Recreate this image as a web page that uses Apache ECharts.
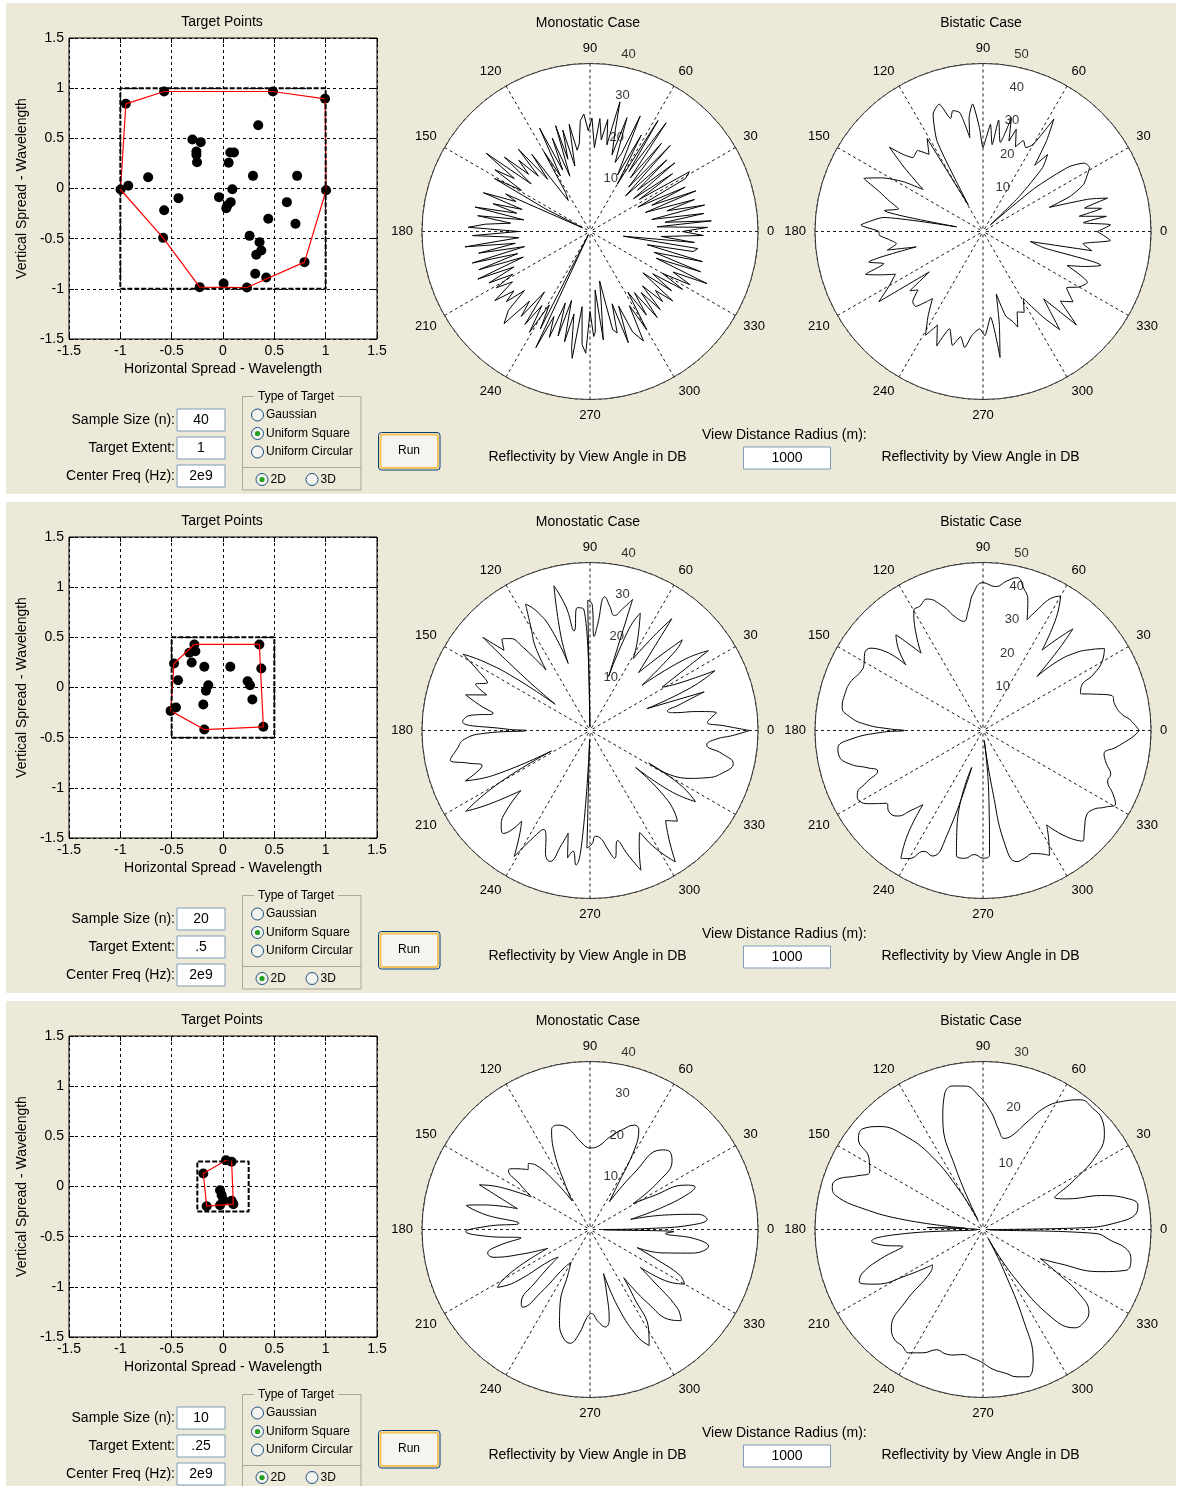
<!DOCTYPE html>
<html>
<head>
<meta charset="utf-8">
<title>Target Reflectivity</title>
<script src="https://cdn.jsdelivr.net/npm/echarts@6/dist/echarts.min.js"></script>
<style>
  html, body { margin: 0; padding: 0; background: #fff; }
  #chart { width: 1178px; height: 1486px; }
</style>
</head>
<body>
<div id="chart"></div>
<script>
// ---- Target point clouds (units: wavelengths) ----
const pts1X = [-0.946,-0.573,0.486,0.994,0.343,-0.298,-0.217,-0.259,-0.259,-0.253,0.071,0.107,0.055,-0.729,0.292,0.722,-0.998,-0.923,0.091,1.004,-0.434,-0.039,0.075,0.042,0.032,0.622,-0.573,0.441,0.706,-0.583,0.259,0.356,0.373,0.324,0.794,0.314,0.421,-0.227,0.006,0.233];
const pts1Y = [0.844,0.967,0.967,0.894,0.631,0.488,0.462,0.369,0.336,0.262,0.359,0.359,0.256,0.113,0.126,0.126,-0.010,0.027,-0.007,-0.017,-0.096,-0.086,-0.136,-0.169,-0.196,-0.136,-0.216,-0.302,-0.352,-0.492,-0.472,-0.535,-0.618,-0.661,-0.734,-0.850,-0.887,-0.983,-0.947,-0.987];
const hull1 = [0,1,2,3,19,34,39,37,29,16,0];

const pts2X = [-0.279,0.354,-0.328,-0.269,-0.477,-0.305,-0.182,0.071,0.373,-0.438,-0.143,-0.166,0.240,0.263,0.286,-0.192,-0.458,-0.510,-0.182,0.393];
const pts2Y = [0.429,0.429,0.346,0.362,0.239,0.249,0.206,0.206,0.189,0.073,0.023,-0.033,0.063,0.023,-0.120,-0.169,-0.199,-0.233,-0.419,-0.392];
const hull2 = [0,1,19,18,17,4,0];

const pts3X = [-0.192,0.029,0.084,-0.029,-0.013,0.003,0.084,-0.159,-0.029,0.101];
const pts3Y = [0.130,0.262,0.246,-0.037,-0.086,-0.136,-0.143,-0.196,-0.186,-0.176];
const hull3 = [0,1,2,9,7,0];

// ---- Reflectivity by view angle: [angle (deg), dB] ----
const mono1 = [[0,22],[2,28],[4,16],[5,29],[7,18],[9,27.5],[11,15],[13,28],[15,19],[17,26],[19,14],[21,27],[23,16],[25,25],[27,12.8],[29,26],[31,27.6],[33,14],[35,24],[37,13],[39,26],[41,15],[43,25],[45,12],[47,28],[49,14],[51,27],[53,16],[55,31.6],[57,17],[58.5,31],[60,13],[62,26],[64,15],[66.5,30],[68,20],[70,17.5],[72,28.5],[74,19],[76,25],[77,31.7],[79,21],[81,27],[83,22],[85,27],[87,20],[89,27],[91,24],[93,28],[95,26.5],[97,21],[99,19.6],[101,26],[103,16],[105,25],[107,18],[108,26.5],[110,14],[112,24],[114,16],[116,27.4],[118,15],[120,22],[122,11],[125,9],[127,23],[129,16],[131,26],[133,18],[135,24],[137,20],[139,27],[141,18],[143,31],[145,22],[147,27],[149,19],[151,26],[153,12],[154,2],[156,22],[158,19],[160,27],[162,17],[164,24],[166,18],[168,28],[170,16],[172,27],[174,19],[176,25],[178,29],[180,17],[182,28],[184,19],[185,17],[187,30],[189,18],[191,27],[193,16],[195,29],[197,18],[199,28],[201,17],[203,29],[205,20],[207,27],[209,21],[211,26],[213,22],[216,28],[218,23],[220,26],[222,21],[224,27],[227,30],[229,22],[231,26],[233,18],[235,27],[237,21],[239,28],[241,20],[243,26],[244,1],[245,30.5],[247,22],[249,27],[251,18],[253,26],[255,17],[257,27],[259,20],[261,28],[262,30.5],[264,18],[266,27],[268,29],[270,19],[272,25],[273,24],[275,14],[277,26],[279,17],[281,12],[283,24],[285,25],[287,18],[289,28],[291,19],[293,26],[296,29],[298,20],[300,27],[302,17],[304,24],[306,18],[308,26],[310,19],[312,25],[314,18],[316,24],[318,21],[320,25.7],[322,16],[324,24],[326,18],[328,26],[330,20],[332,27],[334,22],[336,30.5],[338,17],[340,28],[342,16],[345,27.7],[347,14],[349,25],[351,26],[352,8],[354,25],[356,17],[358,27],[360,22]];

const bi1 = [[0,34],[3,38],[5,30],[7,37],[9,29],[11,36],[13,31],[15,38.4],[17,33],[20,21],[22,28],[25,33],[28,35],[31,37],[34,36.4],[37,32],[40,20],[42,3],[44,15],[47,26],[50,29.9],[52,25],[55,33],[57.8,39.6],[60,30],[63,28],[66,29.6],[69,27],[72,32],[74,28],[76,34.9],[79,27],[82,33.5],[84,26],[86,32],[88,28],[90,25],[92,31],[94.7,38.1],[97,34],[98,28.2],[101,36],[104,37.1],[106,35],[109,40.1],[113,38],[117,30],[119,9],[121,32.3],[125,28],[129,31],[133.5,30.3],[136,33],[138,37.5],[141,30],[145,21.8],[148,28],[152,34],[156,38.8],[159,33],[162,29.3],[165,26],[168,30],[170,8],[172,30],[175,34],[177,36.4],[180,31],[182,30.9],[185,28],[188,26],[191,29],[193,20.4],[195,35.2],[198,31],[200,37.2],[203,33],[206,29],[210,32.2],[214,37.4],[217,20],[219,28],[222,26],[225,29.6],[228,30],[231,27],[233,25],[237,30],[241,35.3],[244,31],[248,36.7],[251,30.6],[255,35.1],[258,32],[261,35],[264,31],[268,29],[271,31],[275,25.6],[277.7,37.8],[280,28],[282,19],[285,26],[288,28],[290,30.2],[293,26],[297,27],[301,23.3],[305,31],[308,37.1],[312,27],[315,39.3],[318,31],[322,34],[326,30],[330,33],[334,34.6],[338,27],[341,32],[344,36.5],[345,18.8],[348,14.4],[350,32.9],[353,30],[356,38],[360,34]];

const mono2 = [[0,38],[2,32],[4,28],[6,29],[8,30.4],[10,26],[12,20.4],[14,19],[16,22],[18.7,28.7],[21,14.5],[23,26],[25.6,33],[28,24],[31,20],[34,34],[37,28],[41,16.4],[43,28],[44.5,30.8],[47,24],[50,18],[53.8,33],[56,27],[59,20],[62,24],[66.8,30.4],[69,26],[71,13.6],[72,32.8],[75,30],[78,28],[81,30],[83.6,32],[86,25],[87.5,22.4],[89,30],[91,31],[92,1],[93,29],[96,29.4],[99,24],[101,30],[104,35.5],[107,24],[108,16.8],[111,26],[114,31],[117,33.8],[120,28],[123,24],[126,17.8],[129,26],[131,29],[134,30.2],[137,28],[139,33.8],[141,20],[143,10.4],[145,22],[147,30],[149,35.3],[152,30],[155,26.9],[158,29.4],[161,26],[164,30.8],[167,27],[170,23.4],[173,29],[176,30.4],[179,20],[180,15.2],[181.5,25],[184,30],[188,32],[192,34],[195,30],[198,27],[202,32],[205,25],[208,10.4],[210,25],[213,35.3],[216,30],[221,21.8],[224,28],[227,31],[230,32],[233,27],[236,30],[239,35],[242,29],[245,26],[248,28],[250,31],[253,32.6],[256,28],[258,25],[260,30.8],[262,29],[264,32.2],[266,25],[267.5,2],[268.5,28],[271,27],[273,25.2],[276,26],[278,28],[281,31],[284,27],[287,31],[290,35.4],[293,30],[296,27],[299,32],[303,37.3],[306,32],[310,28],[314,30],[318,25],[321,14],[323,24],[326,30.3],[329,25],[331,16],[334,26],[338,30],[342,33],[347,35],[350,32],[353,28],[356,30],[358,34],[360,38]];

const bi2 = [[0,46.5],[4,44],[7,41.4],[11,40],[15.4,39.5],[18,35],[20.7,31],[24,32],[27,37],[30.5,41.3],[34,43.6],[37,40],[40,36],[43,30],[45,22.7],[47,33],[48.5,40.4],[51,35],[53.7,29.7],[57,40],[60,46.2],[63,44],[66,39],[68.3,35.5],[71,41],[74,44],[77.5,46.6],[81,45],[85,43],[90,44],[94,41],[97,36],[100,33],[104,35],[108,39],[113,42.5],[117,41.5],[120,41.2],[124,36],[128.7,29.5],[131,35],[132.3,38.5],[136,35],[139.6,30.1],[143.7,41.4],[147,42],[151,40.5],[154.3,40.4],[160,42],[165,42.5],[170.5,42.5],[174,40],[177,35],[179,28],[180,23.4],[181,30],[184,40],[187,43.5],[190,43.5],[194,41],[198,36],[201,33.6],[204,38],[207,42],[209.6,42.4],[213,40],[217,36],[221,37],[225,36],[228,32],[231,28.4],[234,38],[237.3,45.2],[240,44],[244,40],[248,40.3],[251,33],[253,11.5],[255,30],[258,38],[262,38.4],[266,37],[270,38],[273,37],[275,20],[277,3],[279,18],[281,35],[284.5,40.3],[288,40],[292,39.5],[295,40.5],[298,42.1],[301,38],[304,33.9],[308,40],[312,44.3],[316,42],[320,40],[324,40.2],[328,43],[331,45.1],[334,43],[338,40],[341,40.2],[345,38],[349,36.7],[352.8,39.9],[355,42],[358,45],[360,46.5]];

const mono3 = [[0,3],[1,14],[2.5,24],[5,28],[8,26],[11,18],[14,10],[17,18],[20,25],[22,27],[25,25],[28,17],[31,12],[35,20],[40,25.5],[45,26.5],[48,25.5],[52,17],[55,8],[58,12],[61,22],[64,26.5],[67,27],[72,25],[78,22.5],[84,20],[90,19.4],[96,21],[102,24.5],[107,26],[111,25.5],[115,20],[119,12],[122,8],[126,14],[130,20],[133,21.5],[136,20.5],[139,22],[142,23.5],[144,24],[147,20],[151,16],[155,24],[158,28.4],[161,22],[164,18],[167,26],[169,30],[172,25],[175,17],[178,24],[181,29.6],[184,24],[187,16.5],[190,22],[193,25],[196,24],[200,17],[204,11],[207,18],[210,24],[212,26],[215,22],[218,12],[221,10],[224,18],[227,24],[229,24.5],[232,19],[236,11],[240,9],[244,12],[248,19],[252,23.5],[256,26.5],[260,27.5],[264,25],[268,21],[271,20],[275,22],[279,23.5],[282,22],[285,15],[287,11],[290,20],[294,28],[297,31],[300,28],[303,19],[305,14],[308,22],[312,29],[315,30.7],[318,28],[321,19],[323,15],[326,22],[330,26],[333,24],[336,17],[339,12],[342,18],[347,25],[352,28.5],[355,25],[357,18],[358.5,20],[359.5,3],[360,3]];

const bi3 = [[0,1],[1,18],[3,24],[6,27.5],[9,28],[12,26.5],[16,22],[20,16],[24,14],[28,18],[33,24],[38,27.5],[43,29],[48,29.2],[53,29],[58,27],[63,24.5],[68,20.5],[73,17.5],[77,16.7],[81,18],[86,21],[92,24],[97,25.8],[102,26.2],[106,25],[110,21],[114,12],[118,2],[121,8],[125,16],[130,22],[135,26],[140,28],[144,27.5],[148,24],[153,22.7],[157,24.5],[161,27.5],[164,28],[167,27],[170,22],[173,14],[176,3],[178,10],[180,1],[183,14],[186,20],[189,18],[192,14.6],[196,19],[200,23],[203,24],[207,21.5],[211,16],[215,11],[219,12],[223,19],[227,24],[231,25.2],[235,25.3],[239,25.7],[244,24.5],[249,23],[253,23.2],[257,23],[261,22.6],[265,23],[269,23.6],[274,25],[279,26],[283,27],[287,27.5],[291,25],[294,18],[297,8],[300,2],[303,10],[308,20],[313,24],[318,24.5],[322,24],[326,21],[330,15],[333,11.5],[336,15],[340,22],[344,26.5],[348,27],[352,26],[355,23],[358,20],[359.5,1],[360,1]];

// ---- Control values shown for each run ----
const sampleSizes = ['40', '20', '10'];
const extentText = ['1', '.5', '.25'];
const extents = [1, 0.5, 0.25];
const centerFreqs = ['2e9', '2e9', '2e9'];
const viewDistance = '1000';
const targetTypes = ['Gaussian', 'Uniform Square', 'Uniform Circular'];
const selectedType = 1;

// ---- Axis ticks ----
const spreadTicks = [-1.5, 1.5, 0.5];          // min, max, step
const monoRings = [[10, 20, 30, 40], [10, 20, 30, 40], [10, 20, 30, 40]];
const biRings = [[10, 20, 30, 40, 50], [10, 20, 30, 40, 50], [10, 20, 30]];
const angleStep = 30;

const runs = [
  { xs: pts1X, ys: pts1Y, hull: hull1, mono: mono1, bi: bi1, smooth: [false, 0.2] },
  { xs: pts2X, ys: pts2Y, hull: hull2, mono: mono2, bi: bi2, smooth: [0.5, 0.5] },
  { xs: pts3X, ys: pts3Y, hull: hull3, mono: mono3, bi: bi3, smooth: [0.45, 0.45] }
];

const FONT = '"Liberation Sans", Arial, Helvetica, sans-serif';
const BEIGE = '#ECE9D8';
const STEP = 499;
const GRID_DASH = [3, 3];
const GRID_COLOR = '#1a1a1a';

function text(x, y, s, size, align) {
  return {
    type: 'text', x: x, y: y, silent: true,
    style: {
      text: s, font: size + 'px ' + FONT, fill: '#000',
      align: align || 'center', verticalAlign: 'middle',
      textAlign: align || 'center', textVerticalAlign: 'middle'
    }
  };
}
function editBox(x, y, w, h, s) {
  return [
    { type: 'rect', silent: true, shape: { x: x, y: y, width: w, height: h },
      style: { fill: '#fff', stroke: '#7F9DB9', lineWidth: 1 } },
    text(x + w / 2, y + h / 2 + 0.5, s, 14, 'center')
  ];
}
function radio(cx, cy, label, on) {
  const els = [
    { type: 'circle', silent: true, shape: { cx: cx, cy: cy, r: 6 },
      style: { fill: '#F3F3EF', stroke: '#1C5180', lineWidth: 1 } },
    text(cx + 8.5, cy, label, 12, 'left')
  ];
  if (on) {
    els.push({ type: 'circle', silent: true, shape: { cx: cx, cy: cy, r: 2.6 },
      style: { fill: '#21A121' } });
  }
  return els;
}

const grids = [], xAxes = [], yAxes = [], polars = [], angleAxes = [], radiusAxes = [];
const series = [], graphics = [];

runs.forEach(function (run, k) {
  const dy = k * STEP;

  // panel background
  graphics.push({ type: 'rect', z: -100, silent: true,
    shape: { x: 6, y: 3 + dy, width: 1170, height: 491 }, style: { fill: BEIGE } });

  // --- scatter of target points ---
  grids.push({ left: 69, top: 38 + dy, width: 308, height: 301, show: true,
    backgroundColor: '#fff', borderColor: '#000', borderWidth: 1, outerBoundsMode: 'none' });

  const tickCommon = { inside: true, length: 5, lineStyle: { color: '#000' } };
  xAxes.push({
    gridIndex: k, type: 'value', position: 'bottom',
    min: spreadTicks[0], max: spreadTicks[1], interval: spreadTicks[2],
    axisLine: { show: false, onZero: false }, axisTick: tickCommon,
    axisLabel: { margin: 5, color: '#000', fontSize: 14, fontFamily: FONT },
    splitLine: { show: true, lineStyle: { color: '#000', type: GRID_DASH, width: 1 } },
    name: 'Horizontal Spread - Wavelength', nameLocation: 'middle', nameGap: 23,
    nameTextStyle: { color: '#000', fontSize: 14, fontFamily: FONT }
  });
  xAxes.push({
    gridIndex: k, type: 'value', position: 'top',
    min: spreadTicks[0], max: spreadTicks[1], interval: spreadTicks[2],
    axisLine: { show: false, onZero: false }, axisTick: tickCommon,
    axisLabel: { show: false }, splitLine: { show: false }
  });
  yAxes.push({
    gridIndex: k, type: 'value', position: 'left',
    min: spreadTicks[0], max: spreadTicks[1], interval: spreadTicks[2],
    axisLine: { show: false, onZero: false }, axisTick: tickCommon,
    axisLabel: { margin: 5, color: '#000', fontSize: 14, fontFamily: FONT },
    splitLine: { show: true, lineStyle: { color: '#000', type: GRID_DASH, width: 1 } },
    name: 'Vertical Spread - Wavelength', nameLocation: 'middle', nameGap: 40, nameRotate: 90,
    nameTextStyle: { color: '#000', fontSize: 14, fontFamily: FONT }
  });
  yAxes.push({
    gridIndex: k, type: 'value', position: 'right',
    min: spreadTicks[0], max: spreadTicks[1], interval: spreadTicks[2],
    axisLine: { show: false, onZero: false }, axisTick: tickCommon,
    axisLabel: { show: false }, splitLine: { show: false }
  });

  const pts = run.xs.map(function (x, i) { return [x, run.ys[i]]; });
  const e = extents[k];
  series.push({
    type: 'scatter', xAxisIndex: 2 * k, yAxisIndex: 2 * k, data: pts,
    symbol: 'circle', symbolSize: 10, itemStyle: { color: '#000', opacity: 1 }, silent: true, z: 2
  });
  series.push({
    type: 'line', xAxisIndex: 2 * k, yAxisIndex: 2 * k,
    data: run.hull.map(function (i) { return pts[i]; }),
    symbol: 'none', lineStyle: { color: '#ff0000', width: 1.2 }, silent: true, z: 3
  });
  series.push({
    type: 'line', xAxisIndex: 2 * k, yAxisIndex: 2 * k,
    data: [[-e, -e], [e, -e], [e, e], [-e, e], [-e, -e]],
    symbol: 'none', lineStyle: { color: '#000', width: 2, type: [5, 2] }, silent: true, z: 4
  });

  // --- polar reflectivity plots ---
  [[590, monoRings[k], run.mono, run.smooth[0]], [983, biRings[k], run.bi, run.smooth[1]]]
    .forEach(function (cfg, j) {
      const p = 2 * k + j;
      const rings = cfg[1];
      polars.push({ center: [cfg[0], 231.5 + dy], radius: 168 });
      angleAxes.push({
        polarIndex: p, type: 'value', min: 0, max: 360, interval: angleStep,
        startAngle: 0, clockwise: false,
        axisLine: { show: true, lineStyle: { color: '#333', width: 1 } },
        axisTick: { show: false },
        axisLabel: { margin: 9, color: '#000', fontSize: 13, fontFamily: FONT,
          formatter: function (v) { return v === 360 ? '' : String(v); } },
        splitLine: { show: true, lineStyle: { color: GRID_COLOR, type: GRID_DASH, width: 1 } }
      });
      radiusAxes.push({
        polarIndex: p, type: 'value', min: 0, max: rings[rings.length - 1], interval: 10,
        axisLine: { show: false }, axisTick: { show: false }, axisLabel: { show: false },
        splitLine: { show: true, lineStyle: { color: GRID_COLOR, type: GRID_DASH, width: 1 } },
        splitArea: { show: true, areaStyle: { color: ['#fff'] } }
      });
      series.push({
        type: 'line', coordinateSystem: 'polar', polarIndex: p,
        data: cfg[2].map(function (d) { return [d[1], d[0]]; }),
        symbol: 'none', smooth: cfg[3], silent: true,
        lineStyle: { color: '#000', width: 1 }, z: 3
      });
      series.push({
        type: 'scatter', coordinateSystem: 'polar', polarIndex: p,
        data: rings.map(function (r) { return [r, 82]; }),
        symbolSize: 1, itemStyle: { color: 'rgba(0,0,0,0)' }, silent: true, z: 4,
        label: { show: true, position: 'inside', offset: [15, -11], color: '#000',
          fontSize: 13, fontFamily: FONT, align: 'center', verticalAlign: 'middle',
          formatter: function (q) { return String(q.data[0]); } }
      });
    });

  // --- titles and captions ---
  graphics.push(text(222, 22 + dy, 'Target Points', 14));
  graphics.push(text(588, 23 + dy, 'Monostatic Case', 14));
  graphics.push(text(981, 23 + dy, 'Bistatic Case', 14));
  graphics.push(text(587.5, 457.5 + dy, 'Reflectivity by View Angle in DB', 14));
  graphics.push(text(980.5, 457.5 + dy, 'Reflectivity by View Angle in DB', 14));

  // --- input fields ---
  graphics.push(text(175, 420.5 + dy, 'Sample Size (n):', 14, 'right'));
  graphics.push(text(175, 448 + dy, 'Target Extent:', 14, 'right'));
  graphics.push(text(175, 476.5 + dy, 'Center Freq (Hz):', 14, 'right'));
  editBox(177, 409 + dy, 48, 22, sampleSizes[k]).forEach(function (g) { graphics.push(g); });
  editBox(177, 437 + dy, 48, 22, extentText[k]).forEach(function (g) { graphics.push(g); });
  editBox(177, 465 + dy, 48, 22, centerFreqs[k]).forEach(function (g) { graphics.push(g); });

  graphics.push(text(702, 435.5 + dy, 'View Distance Radius (m):', 14, 'left'));
  editBox(743.5, 447 + dy, 87, 22, viewDistance).forEach(function (g) { graphics.push(g); });

  // --- target type group ---
  graphics.push({ type: 'rect', silent: true,
    shape: { x: 242.5, y: 396.5 + dy, width: 118.5, height: 93.5 },
    style: { fill: 'none', stroke: '#A7A69A', lineWidth: 1 } });
  graphics.push({ type: 'line', silent: true,
    shape: { x1: 242.5, y1: 467.5 + dy, x2: 361, y2: 467.5 + dy },
    style: { stroke: '#A7A69A', lineWidth: 1 } });
  graphics.push({ type: 'rect', silent: true,
    shape: { x: 254, y: 390 + dy, width: 84, height: 13 }, style: { fill: BEIGE } });
  graphics.push(text(296, 396.5 + dy, 'Type of Target', 12));
  targetTypes.forEach(function (t, i) {
    radio(257.5, 415 + 18.5 * i + dy, t, i === selectedType).forEach(function (g) { graphics.push(g); });
  });
  radio(262, 479.5 + dy, '2D', true).forEach(function (g) { graphics.push(g); });
  radio(312, 479.5 + dy, '3D', false).forEach(function (g) { graphics.push(g); });

  // --- run button ---
  graphics.push({ type: 'rect', silent: true,
    shape: { x: 378.5, y: 432.5 + dy, width: 61.5, height: 37.5, r: 3 },
    style: { fill: '#F5F4EE', stroke: '#003C74', lineWidth: 1 } });
  graphics.push({ type: 'rect', silent: true,
    shape: { x: 380.5, y: 434.5 + dy, width: 57.5, height: 33.5, r: 2 },
    style: { fill: 'none', stroke: '#F2C15A', lineWidth: 2 } });
  graphics.push(text(409, 451 + dy, 'Run', 12));
});

const chart = echarts.init(document.getElementById('chart'), null, { renderer: 'canvas' });
chart.setOption({
  animation: false,
  backgroundColor: '#fff',
  textStyle: { fontFamily: FONT },
  grid: grids,
  xAxis: xAxes,
  yAxis: yAxes,
  polar: polars,
  angleAxis: angleAxes,
  radiusAxis: radiusAxes,
  series: series,
  graphic: { elements: graphics }
});
</script>
</body>
</html>
